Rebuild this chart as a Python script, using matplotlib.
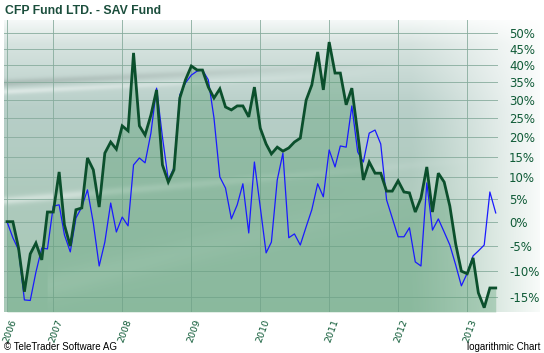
import numpy as np
import pandas as pd
import matplotlib
matplotlib.use("Agg")
import matplotlib.pyplot as plt
from matplotlib.transforms import ScaledTranslation

# ---------------- data (percent change, monthly) ----------------
months = pd.date_range("2006-05-01", periods=86, freq="MS")

cfp = [0.0, 0.0, -5.5, -14.0, -6.7, -4.5, -7.9, 2.1, 2.1, 11.3,
       -0.7, -5.1, 2.6, 3.0, 14.7, 11.8, 3.2, 15.9, 18.7, 16.9,
       22.9, 21.6, 43.8, 22.9, 20.5, 25.8, 32.8, 13.0, 8.9, 11.8,
       30.5, 35.7, 39.8, 38.6, 38.6, 33.6, 30.5, 33.1, 28.0, 27.2,
       28.3, 28.3, 25.3, 33.6, 22.3, 18.2, 15.7, 17.4, 16.4, 17.2,
       18.7, 19.7, 29.9, 34.2, 44.1, 32.8, 47.2, 37.7, 37.7, 28.6,
       33.3, 21.0, 9.4, 13.7, 11.0, 11.0, 6.8, 6.8, 9.2, 6.6,
       6.4, 2.1, 5.2, 12.5, 2.1, 11.0, 8.9, 3.4, -4.7, -10.1,
       -10.6, -7.5, -14.2, -16.9, -13.3, -13.3]

sav = [0.0, -3.4, -5.9, -15.5, -15.6, -10.3, -5.5, -5.7, 3.4, 3.7,
       -2.8, -6.3, 0.8, 3.2, 7.1, -0.3, -9.1, -4.3, 4.1, -2.2,
       1.0, -0.9, 13.0, 14.7, 13.5, 21.0, 33.3, 20.0, 9.4, 12.3,
       31.4, 34.8, 37.1, 38.3, 38.6, 35.7, 25.0, 10.1, 7.5, 0.6,
       3.7, 8.5, -2.4, 13.7, 3.2, -6.5, -4.3, 9.4, 15.9, -3.4,
       -2.6, -4.9, -1.1, 2.6, 8.5, 5.5, 16.7, 12.5, 17.7, 17.4,
       28.3, 16.2, 13.7, 21.0, 21.8, 18.2, 4.8, 0.8, -3.2, -3.2,
       -1.3, -8.3, -9.1, 8.7, -1.8, 0.6, -2.2, -4.9, -8.9, -12.9,
       -10.5, -7.1, -6.1, -4.9, 6.6, 1.9]

year_labels = ["2006", "2007", "2008", "2009", "2010", "2011", "2012", "2013"]
tick_dates = [months[0]] + [pd.Timestamp(f"{y}-01-01") for y in range(2007, 2014)]
y_ticks = list(range(-15, 55, 5))
y_labels = [f"{v}%" for v in y_ticks]

title = "CFP Fund LTD. - SAV Fund"
copyright_txt = "\u00a9 TeleTrader Software AG"
scale_txt = "logarithmic Chart"

# ---------------- figure ----------------
W, H = 544, 353
fig = plt.figure(figsize=(W / 100, H / 100), dpi=100)
fig.patch.set_facecolor("white")


def rect(x0, y0, x1, y1):
    return [x0 / W, 1 - y1 / H, (x1 - x0) / W, (y1 - y0) / H]


# background gradient (extends behind the right-hand labels)
bg = fig.add_axes(rect(4, 20, 540, 312))
bg.axis("off")
nh, nw = 300, 540
ty = np.linspace(0, 1, nh)[:, None] * np.ones((1, nw))
tx = np.ones((nh, 1)) * np.linspace(0, 1, nw)[None, :]

stops_t = [0.0, 0.08, 0.30, 0.60, 1.0]
stops_c = np.array([[0.96, 0.975, 0.97],
                    [0.84, 0.89, 0.875],
                    [0.72, 0.81, 0.785],
                    [0.68, 0.79, 0.74],
                    [0.66, 0.79, 0.72]])
col = np.stack([np.interp(ty, stops_t, stops_c[:, k]) for k in range(3)], axis=-1)


def streak(c0, slope, sig, xmax):
    c = c0 + slope * tx
    g = np.exp(-((ty - c) / sig) ** 2)
    return g * np.clip(1 - tx / xmax, 0, 1)


dark = streak(0.215, -0.09, 0.012, 0.75)
col = col * (1 - 0.12 * dark[..., None])
light = streak(0.245, -0.09, 0.010, 0.7)
col = col + (1 - col) * 0.45 * light[..., None]
light2 = streak(0.62, -0.16, 0.014, 0.9)
col = col + (1 - col) * 0.45 * light2[..., None]
light3 = streak(0.95, -0.45, 0.05, 1.0) * (tx > 0.08)
col = col + (1 - col) * 0.18 * light3[..., None]

fade = np.clip((tx - 0.76) / 0.24, 0, 1) ** 1.1
col = col * (1 - 0.92 * fade[..., None]) + 0.92 * fade[..., None]
bg.imshow(np.clip(col, 0, 1), aspect="auto", extent=[0, 1, 0, 1],
          origin="upper", zorder=0, interpolation="bilinear")
bg.set_xlim(0, 1)
bg.set_ylim(0, 1)

ax = fig.add_axes(rect(4, 20, 498, 312))
ax.patch.set_alpha(0)

fwd = lambda r: np.log1p(np.asarray(r, dtype=float) / 100.0)
inv = lambda v: 100.0 * np.expm1(np.asarray(v, dtype=float))
ax.set_yscale("function", functions=(fwd, inv))
ax.set_ylim(-17.67, 54.36)
ax.set_xlim(months[0] - pd.Timedelta(days=16), months[-1] + pd.Timedelta(days=12))

ax.fill_between(months, cfp, -17.67, color="#4f9a6a", alpha=0.33, lw=0, zorder=2)
ax.plot(months, sav, color="#1a1aff", lw=0.9, zorder=3)
ax.plot(months, cfp, color="#0b4f2c", lw=2.0, zorder=4, solid_joinstyle="miter")

ax.set_yticks(y_ticks)
ax.set_yticklabels(y_labels)
ax.yaxis.tick_right()
ax.set_xticks(tick_dates)
ax.set_xticklabels(year_labels, rotation=70, ha="center")
ax.tick_params(axis="y", length=0, pad=8, labelsize=8.5, labelcolor="#0e5a36")
ax.tick_params(axis="x", length=0, pad=4, labelsize=6.8, labelcolor="#0e5a36")
shift = ScaledTranslation(3 / 100, 0, fig.dpi_scale_trans)
for lab in ax.get_xticklabels():
    lab.set_transform(lab.get_transform() + shift)
ax.minorticks_off()
ax.grid(True, color="#86ab9c", lw=0.7, alpha=0.85)
ax.set_axisbelow(True)
for s in ax.spines.values():
    s.set_visible(False)

fig.text(5 / W, 1 - 11.5 / H, title, fontsize=8.8, fontweight="bold",
         color="#1b4e3c", va="center", ha="left", family="Liberation Sans")
fig.text(4 / W, 1 - 346.5 / H, copyright_txt, fontsize=7, color="black",
         va="center", ha="left", family="Liberation Sans")
fig.text(540 / W, 1 - 346.5 / H, scale_txt, fontsize=7, color="black",
         va="center", ha="right", family="Liberation Sans")

fig.savefig("out.png", dpi=100)
